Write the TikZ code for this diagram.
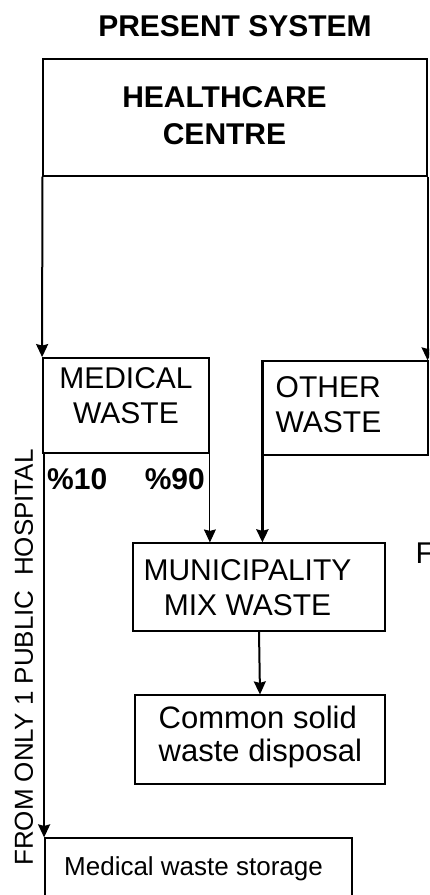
\documentclass[tikz,border=0pt]{standalone}
\usepackage{fontspec}
\setmainfont{Liberation Sans}
\usetikzlibrary{arrows.meta,positioning,calc}

\begin{document}
\begin{tikzpicture}[x=1pt,y=-1pt,
  wbox/.style={draw,line width=1.2pt,inner sep=0pt},
  wtxt/.style={font=\fontsize{30}{35}\selectfont,align=center,inner sep=0pt},
  wbold/.style={wtxt,font=\bfseries\fontsize{30}{37}\selectfont},
  wsmall/.style={font=\fontsize{26}{30}\selectfont,inner sep=0pt},
  flow/.style={-{Stealth[length=13pt,width=12pt,inset=1.5pt]},line width=2pt},
  flowthin/.style={flow,line width=1pt},
  flowheavy/.style={flow,line width=3pt}]
\useasboundingbox (0,0) rectangle (429,895);
\clip (0,0) rectangle (429,895);
\node[wbold,anchor=base] (title) at (235,36) {PRESENT SYSTEM};
\node[wbox,minimum width=384pt,minimum height=117pt] (hc) at (235,117.5) {};
\node[wbold] (hct) at (224.5,116) {HEALTHCARE\\CENTRE};
\node[wbox,line width=1.8pt,minimum width=166pt,minimum height=95pt] (med) at (126,405.5) {};
\node[wtxt] (medt) at (126,396) {MEDICAL\\WASTE};
\node[wbox,minimum width=165pt,minimum height=94pt] (oth) at (345.5,408) {};
\node[wtxt,align=left,anchor=west] (otht) at (275.5,404.5) {OTHER\\WASTE};
\node[wbold,anchor=base west] (p10) at (47,489) {\%10};
\node[wbold,anchor=base east] (p90) at (205,489) {\%90};
\node[wbox,minimum width=252pt,minimum height=88pt] (mun) at (259,587) {};
\node[wtxt] (munt) at (247.5,588) {MUNICIPALITY\\MIX WASTE};
\node[wbox,minimum width=250pt,minimum height=89pt] (csw) at (260,739.5) {};
\node[wtxt,font=\fontsize{31}{33}\selectfont,align=left,anchor=west] (cswt) at (158.5,737) {Common solid\\waste disposal};
\node[wbox,minimum width=307pt,minimum height=80pt] (mws) at (198.5,878) {};
\node[wsmall,anchor=base west] (mwst) at (64,875) {Medical waste storage};
\node[wsmall,rotate=90] (src) at (24,657.5) {FROM ONLY 1 PUBLIC\ \ HOSPITAL};
\node[wtxt,anchor=base west] (cut) at (415.5,563) {F};
\draw[flow] (hc.south west) -- (med.north west);
\draw[flow] (hc.south east) -- (hc.south east |- oth.north);
\draw[flowthin] (med.south east) -- (med.south east |- mun.north);
\draw[flowheavy] (oth.north west) -- (oth.north west |- mun.north);
\draw[flow] (mun.south) -- (csw.north);
\draw[flow] ([xshift=2pt]med.south west) -- ([xshift=2pt]med.south west |- mws.north);
\end{tikzpicture}
\end{document}
